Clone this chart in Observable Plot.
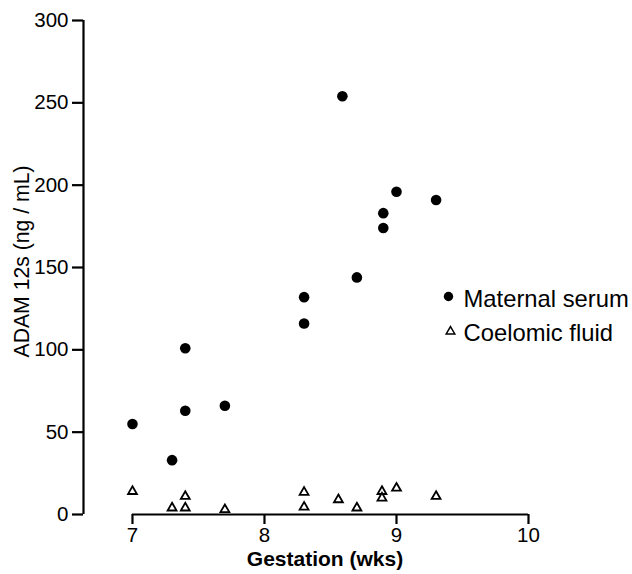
<!DOCTYPE html>
<html><head><meta charset="utf-8">
<script src="https://cdn.jsdelivr.net/npm/d3@7"></script>
<script src="https://cdn.jsdelivr.net/npm/@observablehq/plot@0.6"></script>
<style>body{margin:0;background:#fff} #chart svg{display:block}</style>
</head><body><div id="chart"></div>
<script>
// Data
const seriesNames = ["Maternal serum", "Coelomic fluid"];
const maternalWeeks = [7.0, 7.3, 7.4, 7.4, 7.7, 8.3, 8.3, 8.59, 8.7, 8.9, 8.9, 9.0, 9.3];
const maternalValues = [55, 33, 101, 63, 66, 132, 116, 254, 144, 183, 174, 196, 191];
const coelomicWeeks = [7.0, 7.3, 7.4, 7.4, 7.7, 8.3, 8.3, 8.56, 8.7, 8.89, 8.89, 9.0, 9.3];
const coelomicValues = [14, 4, 4, 11, 3, 13.5, 4.5, 9, 4, 14, 10, 16, 11];
const xTicks = [7, 8, 9, 10];
const yTicks = [0, 50, 100, 150, 200, 250, 300];
const xLabel = "Gestation (wks)";
const yLabel = "ADAM 12s (ng / mL)";
const xDomain = [6.629, 10];
const yDomain = [0, 300];

const maternal = maternalWeeks.map((w, i) => ({week: w, value: maternalValues[i]}));
const coelomic = coelomicWeeks.map((w, i) => ({week: w, value: coelomicValues[i]}));

const chart = Plot.plot({
  width: 632, height: 574,
  marginLeft: 83, marginRight: 104, marginTop: 20, marginBottom: 60,
  style: {fontFamily: "'Liberation Sans', Arial, sans-serif", fontSize: "20px", color: "#000", background: "#fff"},
  x: {domain: xDomain},
  y: {domain: yDomain},
  marks: [
    Plot.ruleX([xDomain[0]], {y1: yDomain[0], y2: yDomain[1], strokeWidth: 2.2}),
    Plot.ruleY([0], {x1: xTicks[0], x2: xTicks[xTicks.length - 1], strokeWidth: 2.2}),
    Plot.axisY({ticks: yTicks, tickSize: 11, tickPadding: 4, strokeWidth: 2.2, label: null, fontSize: 20.5, tickFormat: d3.format("d")}),
    Plot.axisX({ticks: xTicks, tickSize: 10, tickPadding: 3, strokeWidth: 2.2, label: null, fontSize: 20.5, tickFormat: d3.format("d")}),
    Plot.dot(coelomic, {x: "week", y: "value", symbol: "triangle", r: 3.3, stroke: "#000", fill: "#fff", strokeWidth: 1.8}),
    Plot.dot(maternal, {x: "week", y: "value", r: 5.3, fill: "#000", stroke: "none"}),
    // legend
    Plot.dot([seriesNames[0]], {frameAnchor: "top-left", dx: 365, dy: 276, r: 4.7, fill: "#000", stroke: "none"}),
    Plot.text([seriesNames[0]], {frameAnchor: "top-left", dx: 380, dy: 279, text: d => d, textAnchor: "start", lineAnchor: "middle", fontSize: 23.8}),
    Plot.dot([seriesNames[1]], {frameAnchor: "top-left", dx: 367, dy: 311, symbol: "triangle", r: 3.2, stroke: "#000", fill: "#fff", strokeWidth: 1.5}),
    Plot.text([seriesNames[1]], {frameAnchor: "top-left", dx: 380, dy: 312.5, text: d => d, textAnchor: "start", lineAnchor: "middle", fontSize: 23.8}),
    // axis titles
    Plot.text([yLabel], {frameAnchor: "left", rotate: -90, dx: -61, dy: -6, text: d => d, textAnchor: "middle", lineAnchor: "middle", fontSize: 21.2}),
    Plot.text([xLabel], {frameAnchor: "bottom", dx: 19, dy: 45, text: d => d, textAnchor: "middle", lineAnchor: "middle", fontSize: 21, fontWeight: "bold"})
  ]
});
document.getElementById("chart").appendChild(chart);
</script>
</body></html>
